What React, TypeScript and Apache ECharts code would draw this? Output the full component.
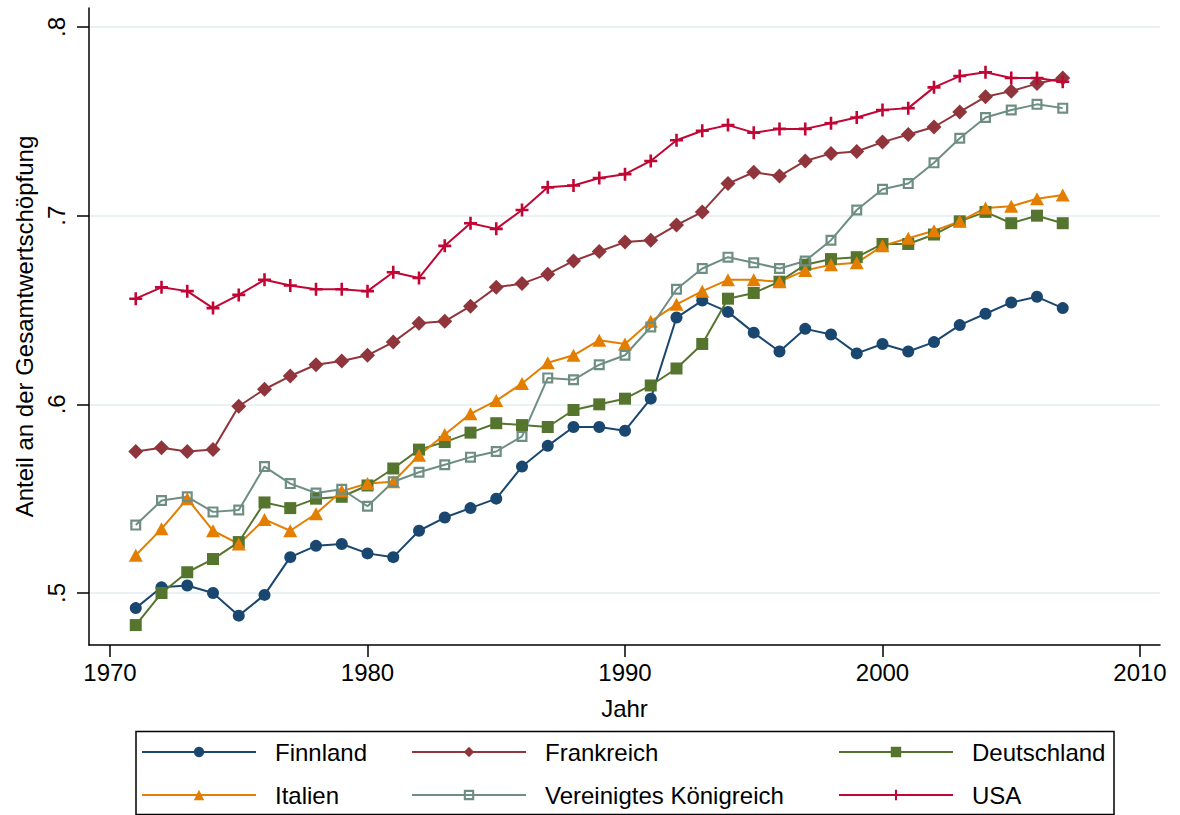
import { useEffect, useRef } from "react";
import * as echarts from "echarts";

const years = [
  1971, 1972, 1973, 1974, 1975, 1976, 1977, 1978, 1979, 1980,
  1981, 1982, 1983, 1984, 1985, 1986, 1987, 1988, 1989, 1990,
  1991, 1992, 1993, 1994, 1995, 1996, 1997, 1998, 1999, 2000,
  2001, 2002, 2003, 2004, 2005, 2006, 2007,
];

const finnland = [
  0.492, 0.503, 0.504, 0.5, 0.488, 0.499, 0.519, 0.525, 0.526, 0.521,
  0.519, 0.533, 0.54, 0.545, 0.55, 0.567, 0.578, 0.588, 0.588, 0.586,
  0.603, 0.646, 0.655, 0.649, 0.638, 0.628, 0.64, 0.637, 0.627, 0.632,
  0.628, 0.633, 0.642, 0.648, 0.654, 0.657, 0.651,
];
const frankreich = [
  0.575, 0.577, 0.575, 0.576, 0.599, 0.608, 0.615, 0.621, 0.623, 0.626,
  0.633, 0.643, 0.644, 0.652, 0.662, 0.664, 0.669, 0.676, 0.681, 0.686,
  0.687, 0.695, 0.702, 0.717, 0.723, 0.721, 0.729, 0.733, 0.734, 0.739,
  0.743, 0.747, 0.755, 0.763, 0.766, 0.77, 0.773,
];
const deutschland = [
  0.483, 0.5, 0.511, 0.518, 0.527, 0.548, 0.545, 0.55, 0.551, 0.557,
  0.566, 0.576, 0.58, 0.585, 0.59, 0.589, 0.588, 0.597, 0.6, 0.603,
  0.61, 0.619, 0.632, 0.656, 0.659, 0.665, 0.674, 0.677, 0.678, 0.685,
  0.685, 0.69, 0.697, 0.702, 0.696, 0.7, 0.696,
];
const italien = [
  0.52, 0.534, 0.55, 0.533, 0.526, 0.539, 0.533, 0.542, 0.554, 0.558,
  0.559, 0.573, 0.584, 0.595, 0.602, 0.611, 0.622, 0.626, 0.634, 0.632,
  0.644, 0.653, 0.66, 0.666, 0.666, 0.665, 0.671, 0.674, 0.675, 0.684,
  0.688, 0.692, 0.697, 0.704, 0.705, 0.709, 0.711,
];
const vereinigtesKoenigreich = [
  0.536, 0.549, 0.551, 0.543, 0.544, 0.567, 0.558, 0.553, 0.555, 0.546,
  0.559, 0.564, 0.568, 0.572, 0.575, 0.583, 0.614, 0.613, 0.621, 0.626,
  0.641, 0.661, 0.672, 0.678, 0.675, 0.672, 0.676, 0.687, 0.703, 0.714,
  0.717, 0.728, 0.741, 0.752, 0.756, 0.759, 0.757,
];
const usa = [
  0.656, 0.662, 0.66, 0.651, 0.658, 0.666, 0.663, 0.661, 0.661, 0.66,
  0.67, 0.667, 0.684, 0.696, 0.693, 0.703, 0.715, 0.716, 0.72, 0.722,
  0.729, 0.74, 0.745, 0.748, 0.744, 0.746, 0.746, 0.749, 0.752, 0.756,
  0.757, 0.768, 0.774, 0.776, 0.773, 0.773, 0.771,
];

const xTicks = [1970, 1980, 1990, 2000, 2010];
const yTicks = [0.5, 0.6, 0.7, 0.8];

const FONT = "'Liberation Sans', Arial, Helvetica, sans-serif";

const PLUS = "path://M4,0H6V4H10V6H6V10H4V6H0V4H4Z";
const HOLLOW = "path://M0,0H10V10H0Z M2,2V8H8V2Z";

export default function App() {
  const ref = useRef<HTMLDivElement>(null);

  useEffect(() => {
    if (!ref.current) return;
    const chart = echarts.init(ref.current, undefined, { renderer: "svg" });

    const mk = (
      name: string,
      values: number[],
      color: string,
      symbol: string,
      symbolSize: number | number[]
    ) => ({
      name,
      type: "line",
      data: years.map((y, i) => [y, values[i]]),
      symbol,
      symbolSize,
      showSymbol: true,
      lineStyle: { color, width: 2 },
      itemStyle: { color, borderWidth: 0 },
      emphasis: { disabled: true },
    });

    const series = [
      mk("Finnland", finnland, "#1a476f", "circle", 12),
      mk("Frankreich", frankreich, "#90353b", "diamond", 15),
      mk("Deutschland", deutschland, "#55752f", "rect", 12),
      mk("Italien", italien, "#e37e00", "triangle", [14, 13]),
      mk("Vereinigtes Königreich", vereinigtesKoenigreich, "#6e8e84", HOLLOW, 11),
      mk("USA", usa, "#c10534", PLUS, 13),
    ];

    const legendPos: [string, number, number][] = [
      ["Finnland", 141, 739],
      ["Frankreich", 411, 739],
      ["Deutschland", 838, 739],
      ["Italien", 141, 782],
      ["Vereinigtes Königreich", 411, 782],
      ["USA", 838, 782],
    ];

    const legends = legendPos.map(([name, left, top]) => ({
      data: [name],
      left,
      top,
      orient: "horizontal",
      padding: 0,
      itemWidth: 114,
      itemHeight: 13,
      selectedMode: false,
      textStyle: {
        fontSize: 24,
        lineHeight: 26,
        color: "#000",
        fontFamily: FONT,
        padding: [0, 0, 0, 14],
      },
    }));

    chart.setOption({
      animation: false,
      backgroundColor: "#fff",
      textStyle: { fontFamily: FONT },
      grid: { left: 89, right: 20, top: 8, bottom: 170, containLabel: false },
      legend: legends,
      graphic: [
        {
          type: "rect",
          shape: { x: 136, y: 731.5, width: 978, height: 83 },
          style: { fill: "none", stroke: "#000", lineWidth: 1.5 },
          silent: true,
        },
      ],
      xAxis: {
        type: "value",
        min: 1969.184,
        max: 2010.777,
        name: "Jahr",
        nameLocation: "middle",
        nameGap: 51,
        nameTextStyle: { fontSize: 24, color: "#000", fontFamily: FONT },
        axisLine: { show: true, onZero: false, lineStyle: { color: "#000", width: 1.5 } },
        axisTick: {
          show: true,
          length: 12,
          customValues: xTicks,
          lineStyle: { color: "#000", width: 1.5 },
        },
        axisLabel: {
          customValues: xTicks,
          fontSize: 24,
          color: "#000",
          fontFamily: FONT,
          margin: 15,
          formatter: (v: number) => String(v),
        },
        splitLine: { show: false },
      },
      yAxis: {
        type: "value",
        min: 0.47244,
        max: 0.81007,
        name: "Anteil an der Gesamtwertschöpfung",
        nameLocation: "middle",
        nameGap: 53,
        nameTextStyle: { fontSize: 24, color: "#000", fontFamily: FONT },
        axisLine: { show: true, onZero: false, lineStyle: { color: "#000", width: 1.5 } },
        axisTick: {
          show: true,
          length: 12,
          customValues: yTicks,
          lineStyle: { color: "#000", width: 1.5 },
        },
        axisLabel: {
          customValues: yTicks,
          rotate: 90,
          fontSize: 24,
          color: "#000",
          fontFamily: FONT,
          margin: 21,
          formatter: (v: number) => v.toFixed(1).replace(/^0/, ""),
        },
        splitLine: { show: true, lineStyle: { color: "#eaf2f3", width: 2 } },
      },
      series,
    });

    return () => chart.dispose();
  }, []);

  return (
    <div
      ref={ref}
      style={{ position: "absolute", left: 0, top: 0, width: 1180, height: 815 }}
    />
  );
}
